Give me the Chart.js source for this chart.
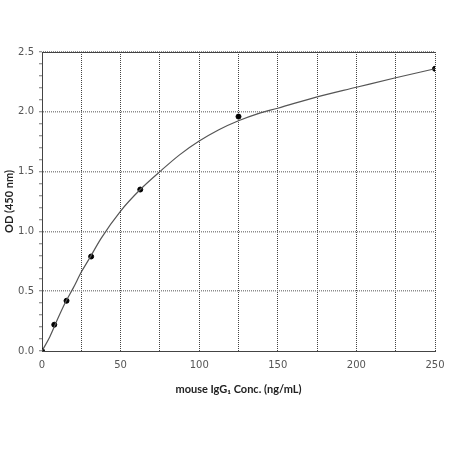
<!DOCTYPE html>
<html>
<head>
<meta charset="UTF-8">
<title>mouse IgG1 standard curve</title>
<script src="https://cdn.jsdelivr.net/npm/chart.js"></script>
<style>
    body { margin: 0; background: #fff; }
    #wrap { width: 450px; height: 450px; }
</style>
</head>
<body>
<div id="wrap"><canvas id="myChart" width="450" height="450"></canvas></div>
<script>
    // standards (ng/mL) and measured OD
    const stdConc = [0, 7.8, 15.6, 31.25, 62.5, 125, 250];
    const stdOD = [0.00, 0.22, 0.42, 0.79, 1.35, 1.96, 2.36];

    // fitted curve
    const fitConc = [0, 5, 10, 15, 20, 25, 30, 37.5, 50, 62.5, 75, 87.5, 100, 112.5, 125, 137.5, 150, 175, 200, 225, 250];
    const fitOD = [0.00, 0.12, 0.27, 0.41, 0.53, 0.66, 0.77, 0.94, 1.17, 1.35, 1.50, 1.64, 1.755, 1.85, 1.925, 1.985, 2.03, 2.125, 2.205, 2.285, 2.36];

    const xTicks = [0, 50, 100, 150, 200, 250];
    const yTicks = [0.0, 0.5, 1.0, 1.5, 2.0, 2.5];

    const isMajorY = v => yTicks.some(t => Math.abs(t - v) < 1e-6);

    const topBorder = {
        id: 'topBorder',
        afterDraw(chart) {
            const { ctx, chartArea } = chart;
            ctx.save();
            ctx.strokeStyle = '#444';
            ctx.lineWidth = 1;
            ctx.beginPath();
            ctx.moveTo(chartArea.left, chartArea.top + 0.5);
            ctx.lineTo(chartArea.right, chartArea.top + 0.5);
            ctx.stroke();
            ctx.restore();
        }
    };

    new Chart(document.getElementById('myChart'), {
        type: 'scatter',
        data: {
            datasets: [
                {
                    label: 'fit',
                    data: fitConc.map((x, i) => ({ x: x, y: fitOD[i] })),
                    showLine: true,
                    borderColor: '#555',
                    borderWidth: 1.2,
                    pointRadius: 0,
                    cubicInterpolationMode: 'monotone'
                },
                {
                    label: 'standards',
                    data: stdConc.map((x, i) => ({ x: x, y: stdOD[i] })),
                    backgroundColor: '#000',
                    borderColor: '#000',
                    pointRadius: 2.5
                }
            ]
        },
        options: {
            responsive: false,
            animation: false,
            layout: { padding: { top: 52, right: 15, left: 0, bottom: 52 } },
            plugins: {
                legend: { display: false },
                tooltip: { enabled: false }
            },
            scales: {
                x: {
                    type: 'linear',
                    min: 0,
                    max: 250,
                    afterFit: scale => {
                        scale.height = 47;
                        scale.paddingRight = 0;
                        scale.paddingLeft = 0;
                    },
                    ticks: {
                        stepSize: 25,
                        autoSkip: false,
                        maxRotation: 0,
                        padding: 8,
                        color: '#555',
                        font: { family: 'DejaVu Sans', size: 10 },
                        callback: v => xTicks.includes(v) ? String(v) : ''
                    },
                    grid: {
                        color: ctx => ctx.tick && ctx.tick.value === 0 ? 'transparent' : '#444',
                        lineWidth: 1,
                        drawTicks: false
                    },
                    border: { display: true, color: '#444', width: 1, dash: [1, 1] },
                    title: {
                        display: true,
                        text: 'mouse IgG\u2081 Conc. (ng/mL)',
                        color: '#222',
                        font: { family: 'Lato', size: 11, weight: 'bold' },
                        padding: { top: 0, bottom: 2 }
                    }
                },
                y: {
                    type: 'linear',
                    min: 0,
                    max: 2.5,
                    afterFit: scale => { scale.width = 42; },
                    ticks: {
                        stepSize: 0.1,
                        autoSkip: false,
                        padding: 5,
                        color: '#555',
                        font: { family: 'DejaVu Sans', size: 10 },
                        callback: v => isMajorY(v) ? v.toFixed(1) : ''
                    },
                    grid: {
                        color: ctx => ctx.tick && isMajorY(ctx.tick.value) && ctx.tick.value > 0 ? '#8c8c8c' : 'transparent',
                        lineWidth: 1.5,
                        tickColor: '#777',
                        tickLength: 3,
                        tickWidth: 1
                    },
                    border: { display: true, color: '#444', width: 1, dash: [1, 1] },
                    title: {
                        display: true,
                        text: 'OD (450 nm)',
                        color: '#222',
                        font: { family: 'Lato', size: 11, weight: 'bold' },
                        padding: { top: 3, bottom: 0 }
                    }
                }
            }
        },
        plugins: [topBorder]
    });
</script>
</body>
</html>
